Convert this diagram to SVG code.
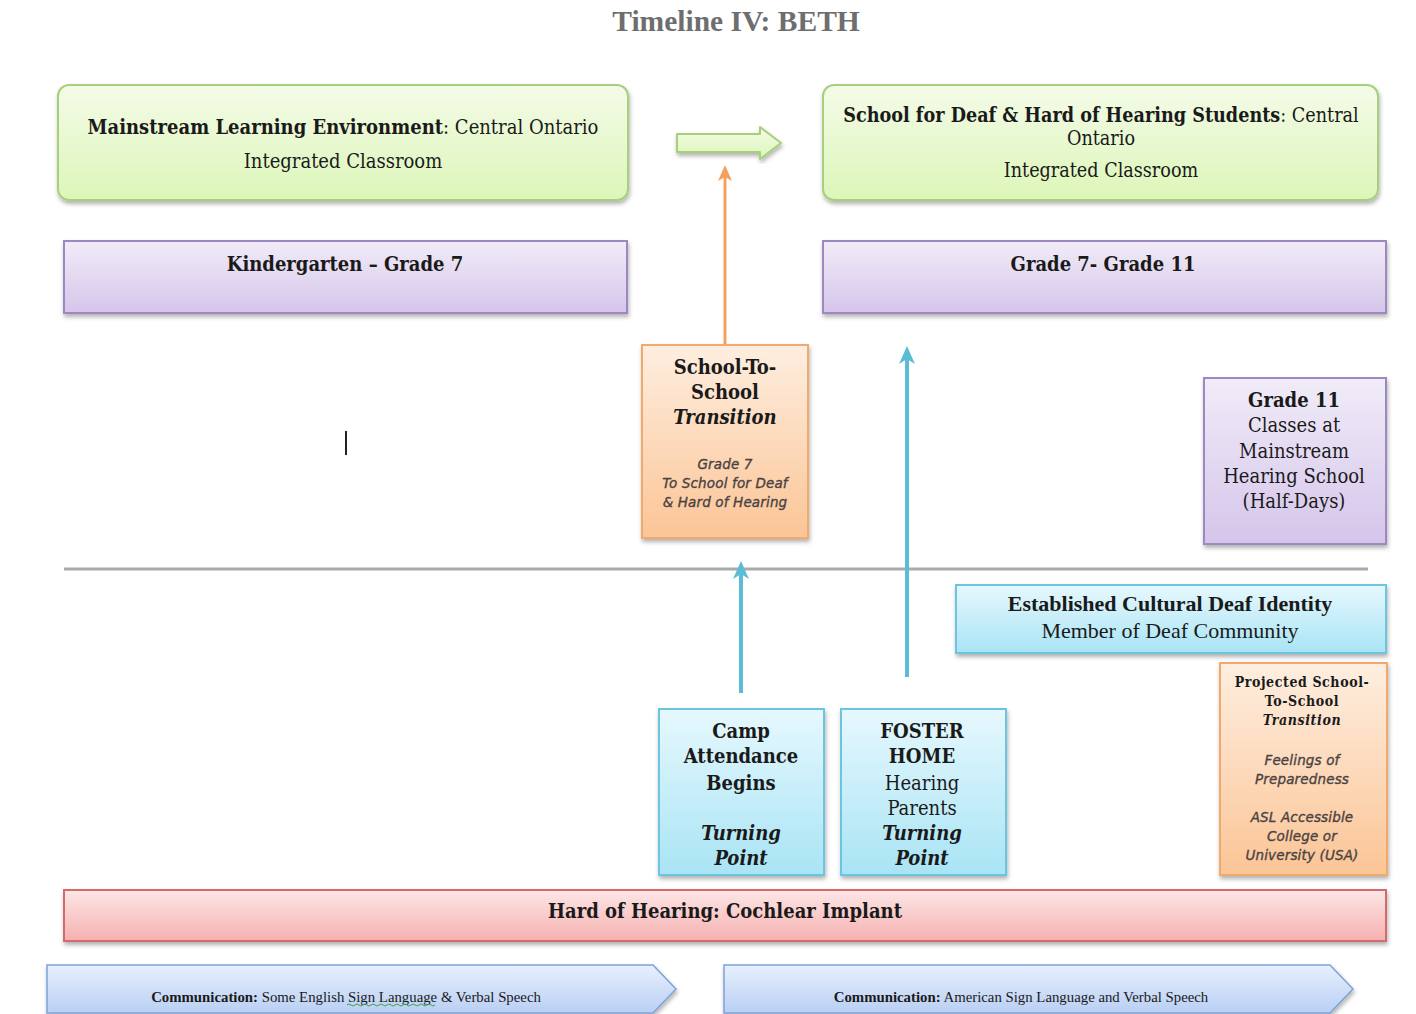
<svg xmlns="http://www.w3.org/2000/svg" width="1416" height="1014" viewBox="0 0 1416 1014">
<defs>
<linearGradient id="gGreen" x1="0" y1="0" x2="0" y2="1"><stop offset="0" stop-color="#f4fbe8"/><stop offset="1" stop-color="#dcf6b8"/></linearGradient>
<linearGradient id="gPurple" x1="0" y1="0" x2="0" y2="1"><stop offset="0" stop-color="#f1ecf8"/><stop offset="1" stop-color="#d5c5ea"/></linearGradient>
<linearGradient id="gOrange" x1="0" y1="0" x2="0" y2="1"><stop offset="0" stop-color="#feeee0"/><stop offset="1" stop-color="#fbc596"/></linearGradient>
<linearGradient id="gBlue" x1="0" y1="0" x2="0" y2="1"><stop offset="0" stop-color="#e6f8fd"/><stop offset="1" stop-color="#a9e4f5"/></linearGradient>
<linearGradient id="gRed" x1="0" y1="0" x2="0" y2="1"><stop offset="0" stop-color="#fde6e6"/><stop offset="1" stop-color="#f6b0b0"/></linearGradient>
<linearGradient id="gComm" x1="0" y1="0" x2="0" y2="1"><stop offset="0" stop-color="#e8f0fe"/><stop offset="1" stop-color="#b9cff4"/></linearGradient>
<filter id="sh" x="-5%" y="-10%" width="110%" height="125%"><feDropShadow dx="1" dy="3" stdDeviation="2" flood-color="#000" flood-opacity="0.3"/></filter>
<marker id="ahO" markerWidth="16" markerHeight="16" refX="8" refY="8" orient="auto" markerUnits="userSpaceOnUse"><path d="M0,1 L16,8 L0,15 L4,8 Z" fill="#f4a05e"/></marker>
<marker id="ahB" markerWidth="18" markerHeight="18" refX="9" refY="9" orient="auto" markerUnits="userSpaceOnUse"><path d="M0,1 L18,9 L0,17 L5,9 Z" fill="#5bbcd6"/></marker>
</defs>
<style>
.t{font-family:"DejaVu Serif",serif;font-stretch:condensed;fill:#1a1a1a;text-anchor:middle}
.b{font-weight:bold}
.i{font-style:italic}
.tm{font-family:"Liberation Serif","Times New Roman",serif;fill:#1a1a1a;text-anchor:middle}
.sm{font-family:"DejaVu Sans",sans-serif;font-style:italic;fill:#4a4242;stroke:#4a4242;stroke-width:0.35;text-anchor:middle;font-size:13.5px;letter-spacing:0.15px}
.green{fill:url(#gGreen);stroke:#a7d07c;stroke-width:2}
.purple{fill:url(#gPurple);stroke:#9d88c2;stroke-width:2}
.orange{fill:url(#gOrange);stroke:#f2aa6c;stroke-width:2}
.blue{fill:url(#gBlue);stroke:#6cc5de;stroke-width:2}
.red{fill:url(#gRed);stroke:#d46a6a;stroke-width:2}
.comm{fill:url(#gComm);stroke:#7fa2d8;stroke-width:1.5}
</style>
<rect width="1416" height="1014" fill="#fff"/>
<text x="736" y="31" font-family="Liberation Serif, serif" font-weight="bold" font-size="29.5" fill="#6e6e6e" text-anchor="middle">Timeline IV: BETH</text>

<g id="connectors">
<line x1="64" y1="569" x2="1368" y2="569" stroke="#aaaaaa" stroke-width="3"/>
<line x1="725" y1="344" x2="725" y2="173" stroke="#f4a05e" stroke-width="3" marker-end="url(#ahO)"/>
<line x1="741" y1="693" x2="741" y2="570" stroke="#5bbcd6" stroke-width="4" marker-end="url(#ahB)"/>
<line x1="907" y1="677" x2="907" y2="355" stroke="#5bbcd6" stroke-width="4" marker-end="url(#ahB)"/>
<g id="green-arrow" filter="url(#sh)"><path d="M677,134 L760,134 L760,127 L781,143 L760,159 L760,152 L677,152 Z" fill="url(#gGreen)" stroke="#a7d07c" stroke-width="2" stroke-linejoin="round"/></g>
</g>

<g id="mainstream" filter="url(#sh)"><rect class="green" x="58" y="85" width="570" height="115" rx="11"/></g>
<text class="t" x="343" y="134" font-size="20"><tspan class="b">Mainstream Learning Environment</tspan>: Central Ontario</text>
<text class="t" x="343" y="168" font-size="20">Integrated Classroom</text>

<g id="deafschool" filter="url(#sh)"><rect class="green" x="823" y="85" width="555" height="115" rx="11"/></g>
<text class="t" x="1101" y="122" font-size="19.6"><tspan class="b">School for Deaf &amp; Hard of Hearing Students</tspan>: Central</text>
<text class="t" x="1101" y="145" font-size="19.6">Ontario</text>
<text class="t" x="1101" y="177" font-size="19.6">Integrated Classroom</text>

<g id="k7" filter="url(#sh)"><rect class="purple" x="64" y="241" width="563" height="72"/></g>
<text class="t b" x="345" y="271" font-size="20">Kindergarten – Grade 7</text>

<g id="g711" filter="url(#sh)"><rect class="purple" x="823" y="241" width="563" height="72"/></g>
<text class="t b" x="1103" y="271" font-size="20">Grade 7- Grade 11</text>

<g id="transition" filter="url(#sh)"><rect class="orange" x="642" y="345" width="166" height="193"/></g>
<text class="t b" x="725" y="374" font-size="20">School-To-</text>
<text class="t b" x="725" y="399" font-size="20">School</text>
<text class="t b i" x="725" y="424" font-size="20">Transition</text>
<text class="sm" x="725" y="469">Grade 7</text>
<text class="sm" x="725" y="488">To School for Deaf</text>
<text class="sm" x="725" y="507">&amp; Hard of Hearing</text>

<g id="g11" filter="url(#sh)"><rect class="purple" x="1204" y="378" width="182" height="166"/></g>
<text class="t b" x="1294" y="407" font-size="20">Grade 11</text>
<text class="t" x="1294" y="432" font-size="20">Classes at</text>
<text class="t" x="1294" y="458" font-size="20">Mainstream</text>
<text class="t" x="1294" y="483" font-size="20">Hearing School</text>
<text class="t" x="1294" y="508" font-size="20">(Half-Days)</text>

<line x1="346" y1="431" x2="346" y2="455" stroke="#222" stroke-width="2"/>

<g id="identity" filter="url(#sh)"><rect class="blue" x="956" y="585" width="430" height="68"/></g>
<text class="tm b" x="1170" y="611" font-size="22">Established Cultural Deaf Identity</text>
<text class="tm" x="1170" y="638" font-size="22">Member of Deaf Community</text>

<g id="projected" filter="url(#sh)"><rect class="orange" x="1220" y="663" width="167" height="212"/></g>
<text class="t b" x="1302" y="687" font-size="14" letter-spacing="0.6">Projected School-</text>
<text class="t b" x="1302" y="706" font-size="14" letter-spacing="0.6">To-School</text>
<text class="t b i" x="1302" y="725" font-size="14" letter-spacing="0.6">Transition</text>
<text class="sm" x="1302" y="765">Feelings of</text>
<text class="sm" x="1302" y="784">Preparedness</text>
<text class="sm" x="1302" y="822">ASL Accessible</text>
<text class="sm" x="1302" y="841">College or</text>
<text class="sm" x="1302" y="860">University (USA)</text>

<g id="camp" filter="url(#sh)"><rect class="blue" x="659" y="709" width="165" height="166"/></g>
<text class="t b" x="741" y="738" font-size="20">Camp</text>
<text class="t b" x="741" y="763" font-size="20">Attendance</text>
<text class="t b" x="741" y="790" font-size="20">Begins</text>
<text class="t b i" x="741" y="840" font-size="20">Turning</text>
<text class="t b i" x="741" y="865" font-size="20">Point</text>

<g id="foster" filter="url(#sh)"><rect class="blue" x="841" y="709" width="165" height="166"/></g>
<text class="t b" x="922" y="738" font-size="20">FOSTER</text>
<text class="t b" x="922" y="763" font-size="20">HOME</text>
<text class="t" x="922" y="790" font-size="20">Hearing</text>
<text class="t" x="922" y="815" font-size="20">Parents</text>
<text class="t b i" x="922" y="840" font-size="20">Turning</text>
<text class="t b i" x="922" y="865" font-size="20">Point</text>

<g id="hoh" filter="url(#sh)"><rect class="red" x="64" y="890" width="1322" height="51"/></g>
<text class="t b" x="725" y="918" font-size="20">Hard of Hearing: Cochlear Implant</text>

<g id="comm1" filter="url(#sh)"><path class="comm" d="M47,965 L653,965 L676,989 L653,1013 L47,1013 Z"/></g>
<text class="tm" x="346" y="1002" font-size="14.8"><tspan class="b">Communication:</tspan> Some English Sign Language &amp; Verbal Speech</text>
<path d="M347,1005 q2,-2 4,0 t4,0 t4,0 t4,0 t4,0 t4,0 t4,0 t4,0 t4,0 t4,0 t4,0 t4,0 t4,0 t4,0 t4,0 t4,0 t4,0 t4,0 t4,0 t4,0 t4,0 t4,0" fill="none" stroke="#3aa34a" stroke-width="1"/>

<g id="comm2" filter="url(#sh)"><path class="comm" d="M724,965 L1330,965 L1353,989 L1330,1013 L724,1013 Z"/></g>
<text class="tm" x="1021" y="1002" font-size="14.8"><tspan class="b">Communication:</tspan> American Sign Language and Verbal Speech</text>
</svg>
